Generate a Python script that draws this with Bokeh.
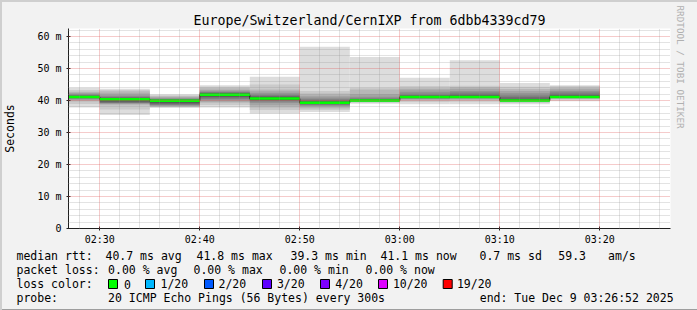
from bokeh.plotting import figure
from bokeh.layouts import column
from bokeh.models import Range1d, FixedTicker, Title
from bokeh.core.properties import value
from bokeh.embed import file_html
from bokeh.resources import INLINE

# ---------------- data ----------------
title_text = "Europe/Switzerland/CernIXP from 6dbb4339cd79"
# end of each 5-minute step, minutes after midnight (02:30 ... 03:20)
seg_end = [150, 155, 160, 165, 170, 175, 180, 185, 190, 195, 200]
median = [41.1, 40.4, 39.9, 41.8, 40.6, 39.3, 40.0, 41.1, 41.1, 40.0, 41.1]
loss = [0, 0, 0, 0, 0, 0, 0, 0, 0, 0, 0]
# 20 sorted ping rtts per step (ms)
pings = [
    [37.8, 38.9, 39.7, 40.1, 40.4, 40.6, 40.8, 40.9, 41.0, 41.05, 41.15, 41.25, 41.4, 41.6, 41.8, 42.1, 42.4, 42.7, 43.3, 44.0],
    [35.5, 37.2, 38.5, 38.9, 39.1, 39.25, 39.4, 39.7, 40.0, 40.3, 40.5, 40.6, 40.7, 40.9, 41.2, 41.6, 42.2, 42.9, 43.3, 43.7],
    [37.7, 37.9, 38.1, 38.2, 38.4, 38.6, 38.9, 39.2, 39.5, 39.8, 40.0, 40.1, 40.2, 40.3, 40.4, 40.7, 41.0, 41.3, 41.6, 41.9],
    [37.8, 38.6, 39.3, 39.6, 40.1, 40.5, 40.9, 41.2, 41.5, 41.7, 41.9, 42.0, 42.2, 42.4, 42.6, 42.9, 43.3, 43.8, 44.3, 44.8],
    [35.9, 37.0, 37.8, 38.5, 39.2, 39.7, 40.0, 40.2, 40.4, 40.5, 40.7, 40.9, 41.1, 41.4, 41.8, 42.3, 42.9, 43.4, 45.0, 47.4],
    [36.4, 37.0, 37.5, 37.9, 38.3, 38.6, 38.8, 39.0, 39.1, 39.25, 39.35, 39.5, 39.7, 40.0, 40.4, 40.9, 41.5, 42.2, 43.0, 56.8],
    [39.0, 39.3, 39.5, 39.6, 39.7, 39.8, 39.85, 39.9, 39.95, 39.98, 40.02, 40.1, 40.2, 40.4, 40.7, 41.2, 42.0, 43.4, 44.0, 53.6],
    [38.8, 39.5, 40.0, 40.3, 40.5, 40.7, 40.9, 41.0, 41.05, 41.08, 41.12, 41.2, 41.4, 41.7, 42.1, 42.7, 43.4, 43.8, 44.5, 47.1],
    [38.8, 39.6, 40.1, 40.4, 40.6, 40.8, 40.9, 41.0, 41.05, 41.08, 41.12, 41.3, 41.6, 42.0, 42.5, 43.0, 43.7, 44.2, 44.6, 52.6],
    [38.8, 39.2, 39.5, 39.7, 39.8, 39.9, 39.95, 39.97, 39.99, 40.0, 40.02, 40.2, 40.5, 41.0, 41.6, 42.3, 43.0, 43.6, 44.3, 45.5],
    [39.8, 40.2, 40.5, 40.7, 40.8, 40.9, 40.95, 41.0, 41.05, 41.08, 41.12, 41.3, 41.6, 42.0, 42.5, 43.0, 43.5, 44.0, 44.5, 44.8],
]
x_tick_vals = [150, 160, 170, 180, 190, 200]
x_tick_labels = ["02:30", "02:40", "02:50", "03:00", "03:10", "03:20"]
y_tick_vals = [0, 10, 20, 30, 40, 50, 60]
y_tick_labels = ["0", "10 m", "20 m", "30 m", "40 m", "50 m", "60 m"]
rtt_stats = ["40.7 ms avg", "41.8 ms max", "39.3 ms min", "41.1 ms now", "0.7 ms sd", "59.3", "am/s"]
loss_stats = ["0.00 % avg", "0.00 % max", "0.00 % min", "0.00 % now"]
loss_labels = ["0", "1/20", "2/20", "3/20", "4/20", "10/20", "19/20"]
loss_colors = ["#00ff00", "#00b8ff", "#0059ff", "#5e00ff", "#7e00ff", "#dd00ff", "#ff0000"]
probe_text = "20 ICMP Echo Pings (56 Bytes) every 300s"
end_text = "end: Tue Dec  9 03:26:52 2025"

# ---------------- layout ----------------
FL, FW, FH = 66, 602, 200
TOP, BOT = 28, 18
x_start = 146.87
x_end = x_start + FW / 10.0
y_max = 62.5
MONO = "DejaVu Sans Mono"

smoke_colors = ["#dddddd", "#cacaca", "#b7b7b7", "#a4a4a4", "#919191",
                "#7e7e7e", "#6b6b6b", "#585858", "#454545", "#323232"]

p = figure(frame_width=FW, frame_height=FH, x_range=Range1d(x_start, x_end), y_range=Range1d(0, y_max),
           output_backend="svg", toolbar_location=None,
           min_border_left=FL, min_border_right=697 - FL - FW,
           min_border_top=TOP, min_border_bottom=BOT)
p.frame_align = False
p.background_fill_color = "white"
p.border_fill_alpha = 0
p.outline_line_color = None

p.title.text = title_text
p.title.align = "center"
p.title.text_font = MONO
p.title.text_font_size = "13.3px"
p.title.text_font_style = "normal"
p.title.text_color = "black"
p.title.standoff = 2

lefts = [e - 5 for e in seg_end]
for i, col in enumerate(smoke_colors):
    p.quad(left=lefts, right=seg_end,
           bottom=[pg[i] for pg in pings], top=[pg[19 - i] for pg in pings],
           fill_color=col, line_color=None)

p.step(x=lefts + [seg_end[-1]], y=median + [median[-1]], mode="after",
       line_color="#202020", line_width=1)
p.quad(left=lefts, right=seg_end,
       bottom=[m - 0.4 for m in median], top=[m + 0.4 for m in median],
       fill_color=[loss_colors[l] for l in loss], line_color=None)

# axes
x_minor = [m for m in range(148, 208, 2) if m % 10]
y_minor = [v for v in range(2, 63, 2) if v % 10]
p.xaxis.ticker = FixedTicker(ticks=x_tick_vals, minor_ticks=x_minor)
p.yaxis.ticker = FixedTicker(ticks=y_tick_vals, minor_ticks=y_minor)
p.xaxis.major_label_overrides = dict(zip(x_tick_vals, x_tick_labels))
p.yaxis.major_label_overrides = dict(zip(y_tick_vals, y_tick_labels))
for ax in (p.xaxis, p.yaxis):
    ax.axis_line_color = "#1f1f1f"
    ax.major_tick_line_color = "#1f1f1f"
    ax.major_tick_out = 2
    ax.major_tick_in = 2
    ax.minor_tick_out = 0
    ax.minor_tick_in = 0
    ax.major_label_text_font = MONO
    ax.major_label_text_font_size = "10px"
    ax.major_label_text_color = "black"
p.xaxis.major_label_standoff = 3
p.yaxis.major_label_standoff = 5
p.yaxis.axis_label = "Seconds"
p.yaxis.axis_label_text_font = MONO
p.yaxis.axis_label_text_font_size = "11.5px"
p.yaxis.axis_label_text_font_style = "normal"
p.yaxis.axis_label_text_color = "black"
p.yaxis.axis_label_standoff = 17

wm = Title(text="RRDTOOL / TOBI OETIKER", align="left", offset=-23, standoff=8,
           text_font=MONO, text_font_size="9.3px", text_font_style="normal", text_color="#b0b0b0")
p.add_layout(wm, "right")

p.xgrid.ticker = FixedTicker(ticks=x_tick_vals, minor_ticks=x_minor)
p.ygrid.ticker = FixedTicker(ticks=y_tick_vals[1:], minor_ticks=y_minor)
for g in (p.xgrid, p.ygrid):
    g.level = "overlay"
    g.grid_line_color = "#de5050"
    g.grid_line_alpha = 0.6
    g.grid_line_dash = "1 1"
    g.minor_grid_line_color = "#8f8f8f"
    g.minor_grid_line_alpha = 0.5
    g.minor_grid_line_dash = "1 1"

# ---------------- legend block (canvas pixel coordinates) ----------------
LEG_TOP = TOP + FH + BOT
q = figure(width=697, height=310 - LEG_TOP, x_range=Range1d(0, 697), y_range=Range1d(310, LEG_TOP),
           output_backend="svg", toolbar_location=None,
           min_border=0, min_border_left=0, min_border_right=0, min_border_top=0, min_border_bottom=0)
q.frame_align = False
q.axis.visible = False
q.grid.visible = False
q.outline_line_color = None
q.background_fill_alpha = 0
q.border_fill_alpha = 0

r1, r2, r3, r4 = 254, 268.5, 282.5, 296.5
box_x = [108, 145, 204, 262, 320, 378, 442.7]
lab_x = [123.6, 160, 218, 276.4, 334.7, 392.4, 456.4]
texts = (["median rtt:"] + rtt_stats + ["packet loss:"] + loss_stats + ["loss color:"] + loss_labels
         + ["probe:", probe_text])
xs = ([16, 105, 196, 290, 380, 479, 557.8, 607.6] + [16, 107.6, 193, 279, 365] + [16] + lab_x
      + [16, 107.6])
ys = [r1] * 8 + [r2] * 5 + [r3] * 8 + [r4] * 2
q.text(x=xs, y=ys, text=texts, text_font=value(MONO), text_font_size=value("11.5px"),
       text_baseline="middle", text_align="left", text_color="black")
q.text(x=[680], y=[r4], text=[end_text], text_font=value(MONO), text_font_size=value("11.5px"),
       text_baseline="middle", text_align="right", text_color="black")
q.rect(x=[b + 4.5 for b in box_x], y=[r3] * len(box_x), width=9, height=9,
       fill_color=loss_colors, line_color="black", line_width=1)

layout = column(p, q, spacing=0,
                styles={"background-color": "#f2f2f2",
                        "box-shadow": "inset 2px 2px 0 #cfcfcf, inset -2px -2px 0 #9e9e9e"})

open("out.html", "w").write(file_html(layout, INLINE))
